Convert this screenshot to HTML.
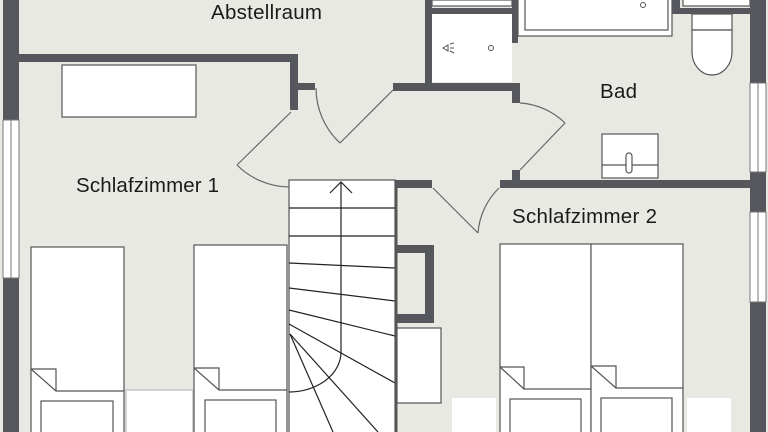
<!DOCTYPE html>
<html><head><meta charset="utf-8"><style>
html,body{margin:0;padding:0;background:#e9e9e4;}
svg{display:block;}
text{font-family:"Liberation Sans",sans-serif;fill:#1a1a1a;}
</style></head><body>
<svg width="768" height="432" viewBox="0 0 768 432" xmlns="http://www.w3.org/2000/svg">
<rect width="768" height="432" fill="#e9e9e4"/>
<g fill="#fff" stroke="#555" stroke-width="1.2">
 <rect x="62" y="65" width="134" height="52"/>
 <rect x="432" y="14" width="80" height="68" stroke="none"/>
 <rect x="432" y="0" width="80" height="6"/>
 <rect x="518" y="-2" width="154" height="38"/>
 <rect x="525" y="-2" width="143" height="32"/>
 <rect x="683" y="-2" width="67" height="8"/>
 <rect x="692" y="14" width="40" height="16"/>
 <path d="M692,30 L732,30 L732,52 A20,23 0 0 1 692,52 Z"/>
 <rect x="602" y="134" width="56" height="44"/>
 <line x1="602" y1="165" x2="658" y2="165"/>
 <rect x="626" y="153" width="6" height="20" rx="3"/>
 <rect x="289" y="180" width="106" height="260"/>
 <rect x="397" y="328" width="44" height="75"/>
 <rect x="126" y="390" width="67" height="50" stroke="#bbb"/>
 <rect x="452" y="398" width="44" height="40" stroke="none"/>
 <rect x="687" y="398" width="44" height="40" stroke="none"/>
 <rect x="31" y="247" width="93" height="190"/>
 <rect x="194" y="245" width="93" height="190"/>
 <rect x="500" y="244" width="91" height="190"/>
 <rect x="591" y="244" width="92" height="190"/>
 <path d="M31,369 L56,369 L56,391 L124,391 M31,369 L56,391" fill="none"/>
 <path d="M194,368 L219,368 L219,390 L287,390 M194,368 L219,390" fill="none"/>
 <path d="M500,367 L524,367 L524,389 L591,389 M500,367 L524,389" fill="none"/>
 <path d="M591,366 L616,366 L616,388 L683,388 M591,366 L616,388" fill="none"/>
 <rect x="41" y="401" width="72" height="40"/>
 <rect x="205" y="400" width="71" height="40"/>
 <rect x="510" y="399" width="71" height="40"/>
 <rect x="601" y="398" width="71" height="40"/>
</g>
<g stroke="#555" stroke-width="1" fill="none">
 <path d="M443,48 L448,45 L448,51 Z"/>
 <line x1="450" y1="44" x2="454" y2="43"/><line x1="450" y1="48" x2="454" y2="48"/><line x1="450" y1="51" x2="454" y2="53"/>
 <circle cx="491" cy="48" r="2.5"/>
 <circle cx="643" cy="5" r="2.5"/>
</g>
<g stroke="#222" stroke-width="1.2" fill="none">
 <line x1="289" y1="208" x2="395" y2="208"/>
 <line x1="289" y1="236" x2="395" y2="236"/>
 <line x1="289" y1="263" x2="395" y2="268"/>
 <line x1="289" y1="288" x2="395" y2="301"/>
 <line x1="289" y1="310" x2="395" y2="336"/>
 <line x1="289" y1="324" x2="395" y2="383"/>
 <line x1="290" y1="334" x2="333" y2="432"/>
 <line x1="290" y1="334" x2="378" y2="432"/>
 <path d="M341,182 L341,352 A52,40 0 0 1 289,392"/>
 <path d="M330,193 L341,182 L352,193"/>
</g>
<line x1="396" y1="180" x2="396" y2="432" stroke="#555" stroke-width="3"/>
<g fill="#55575c">
 <rect x="3" y="0" width="16" height="120"/>
 <rect x="3" y="278" width="16" height="154"/>
 <rect x="19" y="54" width="279" height="8"/>
 <rect x="290" y="54" width="8" height="56"/>
 <rect x="298" y="83" width="17" height="7"/>
 <rect x="393" y="83" width="125" height="8"/>
 <rect x="425" y="0" width="7" height="91"/>
 <rect x="432" y="8" width="80" height="6"/>
 <rect x="512" y="0" width="6" height="43"/>
 <rect x="512" y="83" width="8" height="20"/>
 <rect x="512" y="170" width="8" height="17"/>
 <rect x="397" y="180" width="35" height="8"/>
 <rect x="500" y="180" width="250" height="8"/>
 <rect x="672" y="0" width="8" height="14"/>
 <rect x="672" y="8" width="78" height="6"/>
 <rect x="750" y="0" width="16" height="83"/>
 <rect x="750" y="172" width="16" height="40"/>
 <rect x="750" y="302" width="16" height="130"/>
 <path d="M397,245 H434 V323 H397 Z M397,253 V314 H425 V253 Z" fill-rule="evenodd"/>
</g>
<g fill="#fff" stroke="#777" stroke-width="1">
 <rect x="3" y="120" width="16" height="158"/>
 <line x1="11" y1="120" x2="11" y2="278"/>
 <rect x="750" y="83" width="16" height="89"/>
 <line x1="758" y1="83" x2="758" y2="172"/>
 <rect x="750" y="212" width="16" height="90"/>
 <line x1="758" y1="212" x2="758" y2="302"/>
</g>
<g stroke="#666" stroke-width="1.2" fill="none">
 <line x1="291" y1="112" x2="237" y2="165"/>
 <path d="M237,165 A75,75 0 0 0 289,187"/>
 <path d="M316,88 A75,75 0 0 0 340,143"/>
 <line x1="340" y1="143" x2="393" y2="90"/>
 <path d="M520,103 A70,70 0 0 1 565,123"/>
 <line x1="565" y1="123" x2="520" y2="170"/>
 <line x1="433" y1="188" x2="478" y2="233"/>
 <path d="M499,188 A70,70 0 0 0 478,233"/>
</g>
<text x="211" y="19" font-size="20.5" textLength="111">Abstellraum</text>
<text x="76" y="192" font-size="20.5" textLength="143">Schlafzimmer 1</text>
<text x="600" y="98" font-size="20.5" textLength="37">Bad</text>
<text x="512" y="223" font-size="20.5" textLength="145">Schlafzimmer 2</text>
</svg>
</body></html>
